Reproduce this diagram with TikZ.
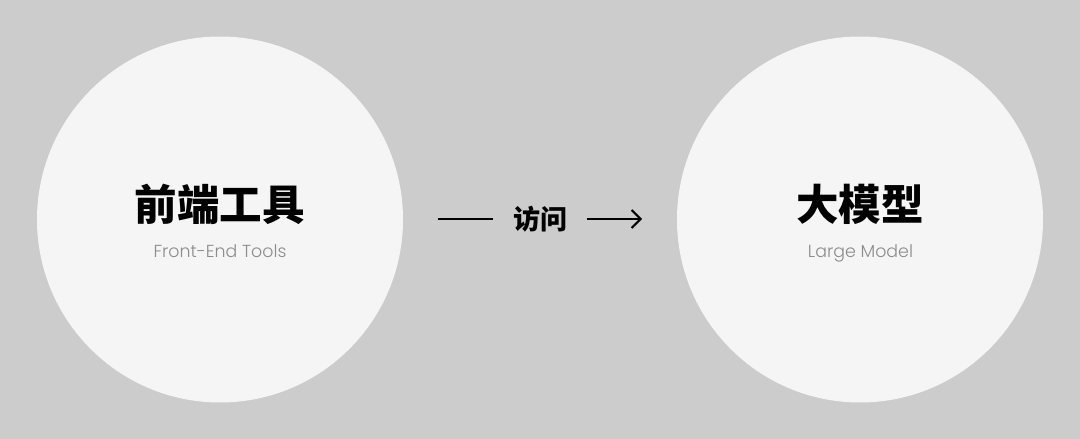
\documentclass[tikz,border=0pt]{standalone}
\usepackage{fontspec}
\setmainfont{Poppins}
\newfontfamily\cjk{Noto Sans CJK SC}
\newfontfamily\latinlight{Poppins Light}
\usetikzlibrary{arrows.meta}
\definecolor{backdrop}{HTML}{CCCCCC}
\definecolor{disc}{HTML}{F5F5F5}
\definecolor{subgray}{HTML}{8C8C8C}

\begin{document}
\begin{tikzpicture}[x=1pt,y=-1pt]
    %
    % `bubble' is the big white disc behind each name.
    % `title' and `subtitle' are the Chinese name and its English line.
    % `verb' is the label sitting on the arrow, `link' the arrow lines.
    \tikzstyle{bubble} = [circle,fill=disc,minimum size=366pt,inner sep=0pt]
    \tikzstyle{title} = [anchor=base,inner sep=0pt,font={\cjk\bfseries\fontsize{42.5}{42.5}\selectfont}]
    \tikzstyle{subtitle} = [anchor=base,inner sep=0pt,text=subgray,font={\latinlight\fontsize{17.4}{17.4}\selectfont}]
    \tikzstyle{verb} = [inner xsep=20pt,inner ysep=0pt,font={\cjk\bfseries\fontsize{27}{27}\selectfont}]
    \tikzstyle{link} = [line width=2pt,black]
    %
    % Background
    \useasboundingbox (0,0) rectangle (1080,439);
    \fill[backdrop] (0,0) rectangle (1080,439);
    %
    % Left disc
    \node[bubble] (tools) at (220,219.5) {};
    \node[title] (toolsname) at (219.5,220) {前端工具};
    \node[subtitle] (toolssub) at (220,257) {Front-End Tools};
    %
    % Right disc
    \node[bubble] (model) at (860,219.5) {};
    \node[title] (modelname) at (860,220) {大模型};
    \node[subtitle] (modelsub) at (860.5,257) {Large Model};
    %
    % Arrow
    \coordinate (from) at (438,219);
    \coordinate (to) at (642,219);
    \node[verb] (visit) at (540,219) {访问};
    \draw[link] (from) -- (visit.west);
    \draw[link,-{Straight Barb[length=9pt,width=18pt,line width=2pt]}] (visit.east) -- (to);
    %
\end{tikzpicture}
\end{document}
